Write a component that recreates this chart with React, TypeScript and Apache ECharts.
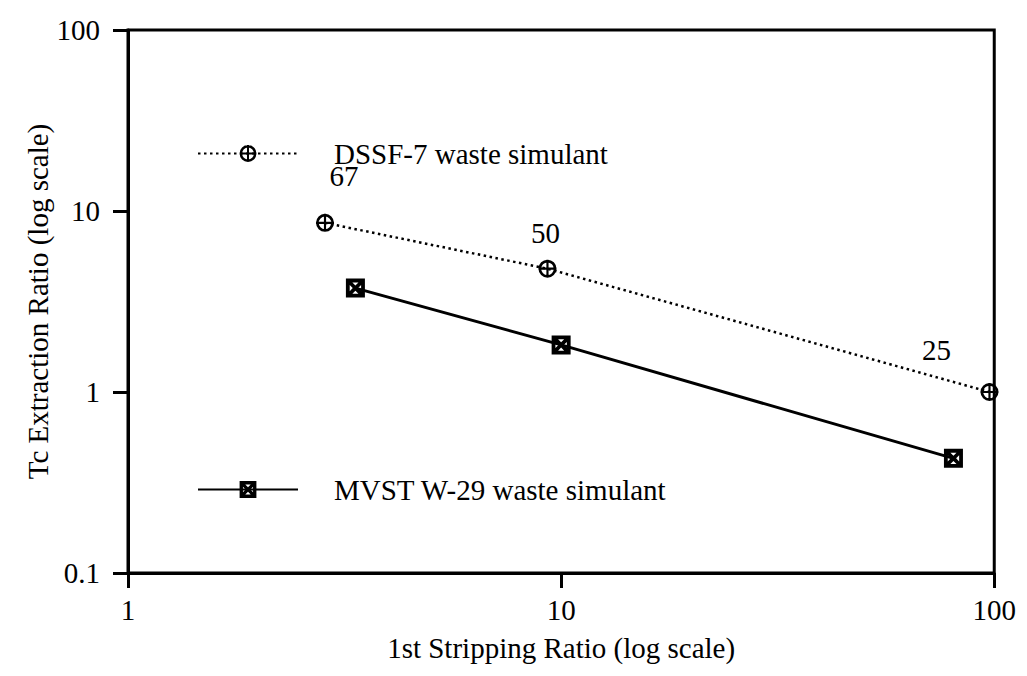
import React, { useEffect, useRef } from "react";
import * as echarts from "echarts";

const dssfName = "DSSF-7 waste simulant";
const mvstName = "MVST W-29 waste simulant";
const dssfX = [2.85, 9.3, 97.5];
const dssfY = [8.6, 4.8, 1.0];
const dssfLabels = ["67", "50", "25"];
const mvstX = [3.35, 10, 80.5];
const mvstY = [3.75, 1.82, 0.43];
const xTicks = [1, 10, 100];
const yTicks = [0.1, 1, 10, 100];

const FONT = "Liberation Serif";
const FS = 29;

const circleCross =
  "path://M0 10 A10 10 0 1 1 20 10 A10 10 0 1 1 0 10 Z M3 10 A7 7 0 1 0 17 10 A7 7 0 1 0 3 10 Z M8.8 0 L11.2 0 L11.2 20 L8.8 20 Z M0 8.8 L20 8.8 L20 11.2 L0 11.2 Z";
const squareX =
  "path://M0 0 L20 0 L20 20 L0 20 Z M6.8 4 L10 7.2 L13.2 4 Z M16 6.8 L12.8 10 L16 13.2 Z M13.2 16 L10 12.8 L6.8 16 Z M4 13.2 L7.2 10 L4 6.8 Z";

const labelOffsets = [
  [19, -47],
  [-2, -36],
  [-53, -42],
];

export default function App() {
  const ref = useRef<HTMLDivElement>(null);
  useEffect(() => {
    if (!ref.current) return;
    const chart = echarts.init(ref.current, undefined, { renderer: "svg" });
    const dssfData = dssfX.map((x, i) => ({
      value: [x, dssfY[i]],
      label: {
        show: true,
        formatter: dssfLabels[i],
        position: "inside",
        offset: labelOffsets[i],
        fontFamily: FONT,
        fontSize: FS,
        lineHeight: 22,
        color: "#000",
      },
    }));
    const mvstData = mvstX.map((x, i) => [x, mvstY[i]]);
    const legendBase = {
      left: 189,
      padding: 0,
      itemWidth: 100,
      itemHeight: 21,
      textStyle: {
        fontFamily: FONT,
        fontSize: FS,
        lineHeight: 22,
        color: "#000",
        padding: [0, 0, 0, 31],
      },
    };
    chart.setOption({
      animation: false,
      backgroundColor: "#fff",
      textStyle: { fontFamily: FONT, color: "#000" },
      grid: {
        left: 120,
        right: 20,
        top: 22,
        bottom: 95,
        show: true,
        borderColor: "#000",
        borderWidth: 3,
        containLabel: false,
      },
      legend: [
        { ...legendBase, data: [dssfName], top: 131 },
        { ...legendBase, data: [mvstName], top: 467 },
      ],
      xAxis: {
        type: "log",
        logBase: 10,
        min: xTicks[0],
        max: xTicks[xTicks.length - 1],
        name: "1st Stripping Ratio (log scale)",
        nameLocation: "middle",
        nameGap: 60,
        nameMoveOverlap: false,
        nameTextStyle: { fontFamily: FONT, fontSize: FS, color: "#000" },
        axisLine: { lineStyle: { color: "#000", width: 3 } },
        axisTick: { show: true, length: 15, lineStyle: { color: "#000", width: 3 } },
        minorTick: { show: false },
        splitLine: { show: false },
        axisLabel: { fontFamily: FONT, fontSize: FS, color: "#000", margin: 22 },
      },
      yAxis: {
        type: "log",
        logBase: 10,
        min: yTicks[0],
        max: yTicks[yTicks.length - 1],
        name: "Tc Extraction Ratio (log scale)",
        nameLocation: "middle",
        nameGap: 76,
        nameMoveOverlap: false,
        nameTextStyle: { fontFamily: FONT, fontSize: FS, color: "#000" },
        axisLine: { lineStyle: { color: "#000", width: 3 } },
        axisTick: { show: true, length: 15, lineStyle: { color: "#000", width: 3 } },
        minorTick: { show: false },
        splitLine: { show: false },
        axisLabel: { fontFamily: FONT, fontSize: FS, color: "#000", margin: 28 },
      },
      series: [
        {
          name: dssfName,
          type: "line",
          data: dssfData,
          symbol: circleCross,
          symbolSize: 18,
          itemStyle: { color: "#000" },
          lineStyle: { color: "#000", width: 2.5, type: [2.5, 3.5] },
        },
        {
          name: mvstName,
          type: "line",
          data: mvstData,
          symbol: squareX,
          symbolSize: 19,
          itemStyle: { color: "#000" },
          lineStyle: { color: "#000", width: 3, type: "solid" },
        },
      ],
    });
    return () => chart.dispose();
  }, []);
  return <div ref={ref} style={{ width: 1011, height: 660 }} />;
}
